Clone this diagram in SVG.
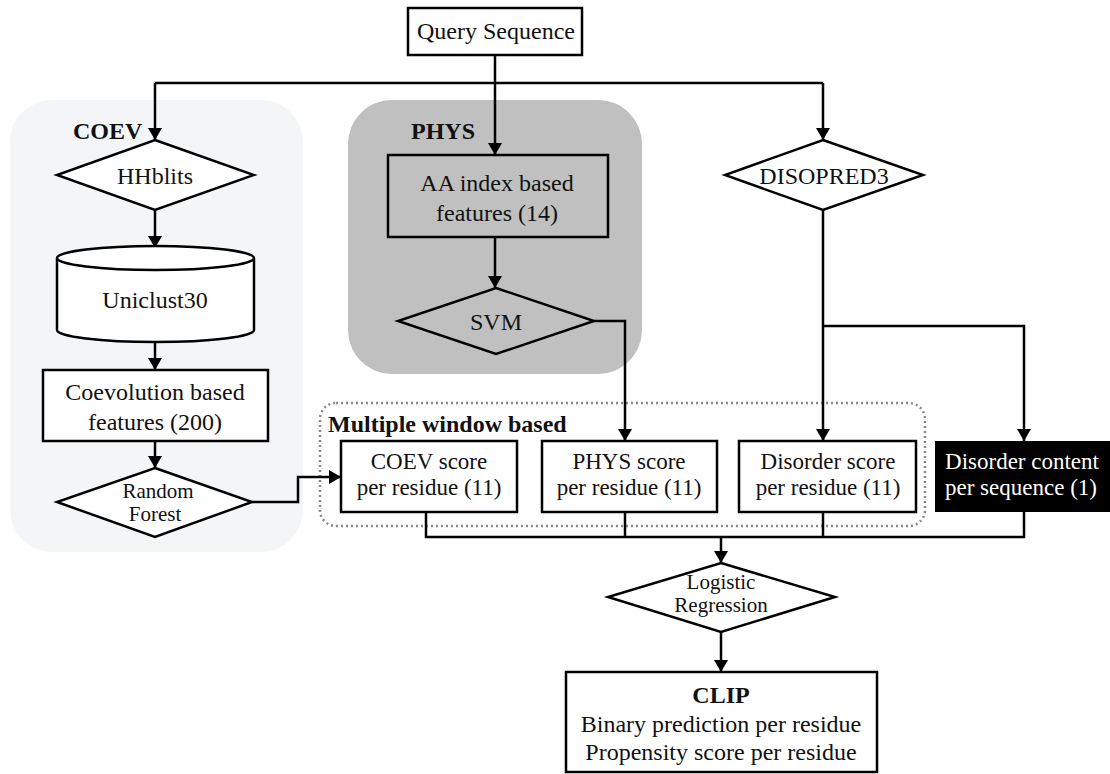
<svg xmlns="http://www.w3.org/2000/svg" width="1110" height="774" viewBox="0 0 1110 774">
<style>
text{font-family:"Liberation Serif","Times New Roman",serif;font-size:24px;fill:#111;text-anchor:middle}
.b{font-weight:bold}
.l{text-anchor:start}
.s{font-size:21px}
.m{font-size:23px}
.w{fill:#fff}
.box{fill:#fff;stroke:#000;stroke-width:2.5}
.gbox{fill:#c0c0c0;stroke:#000;stroke-width:2.5}
.ln{fill:none;stroke:#000;stroke-width:2.5}
.arr{fill:none;stroke:#000;stroke-width:2.5;marker-end:url(#ah)}
</style>
<defs>
<marker id="ah" viewBox="0 0 12 14" refX="12" refY="7" markerWidth="12" markerHeight="14" markerUnits="userSpaceOnUse" orient="auto">
<path d="M0,0 L12,7 L0,14 z" fill="#000"/>
</marker>
</defs>
<rect x="10" y="100" width="293" height="452" rx="42" fill="#f4f5f7"/>
<rect x="348" y="100" width="294" height="274" rx="44" fill="#c0c0c0"/>
<rect x="320" y="403" width="605" height="123" rx="16" fill="none" stroke="#888" stroke-width="2.5" stroke-dasharray="2,3"/>
<g id="connectors">
<path class="arr" d="M495,55 V155"/>
<path class="arr" d="M155,83 V140"/>
<path class="ln" d="M155,83 H823"/>
<path class="arr" d="M823,83 V140"/>
<path class="arr" d="M155,210 V248"/>
<path class="arr" d="M155,342 V370"/>
<path class="arr" d="M155,441 V468"/>
<path class="arr" d="M252,502 H298 V477 H341"/>
<path class="arr" d="M495,237 V288"/>
<path class="arr" d="M594,321 H625 V441"/>
<path class="arr" d="M823,210 V441"/>
<path class="arr" d="M823,326 H1024 V441"/>
<path class="ln" d="M426,512 V537 H1024 V512"/>
<path class="ln" d="M625,512 V537"/>
<path class="ln" d="M823,512 V537"/>
<path class="arr" d="M721,537 V563"/>
<path class="arr" d="M721,632 V672"/>
</g>
<g id="query"><rect class="box" x="408" y="8" width="174" height="47"/><text x="496" y="39">Query Sequence</text></g>
<g id="coev-label"><text class="b l" x="73" y="139">COEV</text></g>
<g id="phys-label"><text class="b l" x="411" y="139">PHYS</text></g>
<g id="hhblits"><polygon class="box" points="155,140 254,175 155,210 57,175"/><text x="155" y="184">HHblits</text></g>
<g id="uniclust"><path class="box" d="M57,258 V330 A98.5,12 0 0 0 254,330 V258 A98.5,12 0 0 0 57,258 A98.5,12 0 0 0 254,258"/><text x="155" y="308">Uniclust30</text></g>
<g id="coevfeat"><rect class="box" x="43" y="370" width="225" height="71"/><text x="155" y="400">Coevolution based</text><text x="155" y="430">features (200)</text></g>
<g id="rf"><polygon class="box" points="155,468 252,502 155,537 57,502"/><text class="s" x="158" y="498">Random</text><text class="s" x="155" y="521">Forest</text></g>
<g id="aa"><rect class="gbox" x="388" y="155" width="220" height="82"/><text x="497" y="191">AA index based</text><text x="497" y="221">features (14)</text></g>
<g id="svm"><polygon class="gbox" points="496,288 594,321 496,354 398,321"/><text x="496" y="330">SVM</text></g>
<g id="disopred"><polygon class="box" points="823,140 923,175 823,210 725,175"/><text x="824" y="184">DISOPRED3</text></g>
<g id="mw-label"><text class="b l" x="328" y="432">Multiple window based</text></g>
<g id="coevscore"><rect class="box" x="341" y="441" width="176" height="71"/><text class="m" x="429" y="469">COEV score</text><text class="m" x="429" y="495">per residue (11)</text></g>
<g id="physscore"><rect class="box" x="542" y="441" width="175" height="71"/><text class="m" x="629" y="469">PHYS score</text><text class="m" x="629" y="495">per residue (11)</text></g>
<g id="disscore"><rect class="box" x="739" y="441" width="177" height="71"/><text class="m" x="828" y="469">Disorder score</text><text class="m" x="828" y="495">per residue (11)</text></g>
<g id="discontent"><rect x="935" y="441" width="175" height="71" fill="#000"/><text class="m w" x="1022" y="469">Disorder content</text><text class="m w" x="1021" y="495">per sequence (1)</text></g>
<g id="lr"><polygon class="box" points="721,563 835,597 721,632 608,597"/><text class="s" x="721" y="589">Logistic</text><text class="s" x="721" y="612">Regression</text></g>
<g id="clip"><rect class="box" x="566" y="672" width="311" height="100"/><text class="b" x="721" y="703">CLIP</text><text x="721" y="732">Binary prediction per residue</text><text x="721" y="760">Propensity score per residue</text></g>
</svg>
